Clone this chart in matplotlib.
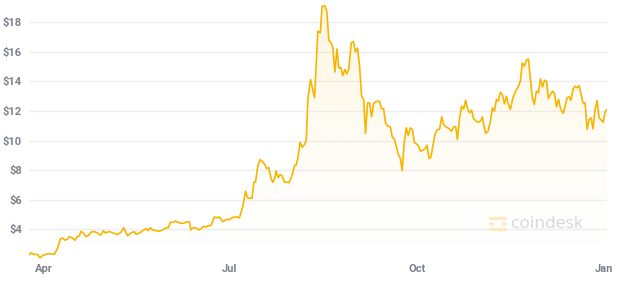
import numpy as np
import pandas as pd
import matplotlib
matplotlib.use("Agg")
import matplotlib.pyplot as plt

# days counted from 2021-04-01, price in USD
days = [
    -7.4, -6.6, -4.9, -3.3, -2.1, -0.8, 0.8, 2.5, 4.9, 6.6, 7.9, 9.0, 10.2,
    11.5, 12.3, 13.9, 15.1, 16.1, 17.2, 18.0, 19.2, 20.5, 21.8, 23.4, 25.4,
    27.0, 27.8, 29.0, 30.0, 31.9, 33.6, 36.0, 37.7, 39.0, 40.9, 42.6, 44.2,
    45.0, 46.7, 48.3, 50.0, 50.9, 52.1, 53.2, 54.9, 56.5, 58.1, 59.8, 60.9,
    61.9, 63.1, 64.4, 65.5, 67.2, 68.8, 69.9, 71.3, 71.9, 72.9, 74.2, 75.8,
    77.0, 78.3, 79.4, 80.8, 81.9, 83.5, 84.7, 86.0, 87.6, 89.3, 90.9, 92.5,
    94.2, 95.8, 97.5, 98.8, 99.9, 101.1, 102.0, 102.9, 103.7, 104.8, 106.0,
    107.3, 108.4, 109.2, 110.2, 111.4, 112.2, 113.2, 113.8, 114.8, 115.8,
    116.8, 117.9, 119.2, 120.1, 121.2, 122.0, 122.9, 123.7, 124.5, 125.6,
    126.6, 127.8, 128.6, 129.4, 130.7, 132.7, 134.3, 135.5, 136.4, 137.8,
    138.7, 139.7, 140.9, 141.7, 142.7, 143.7, 144.6, 145.6, 146.6, 147.6,
    148.6, 149.5, 150.7, 151.8, 152.8, 153.8, 154.8, 155.8, 156.8, 157.7,
    158.7, 159.7, 160.7, 161.7, 163.0, 164.6, 165.6, 166.6, 167.6, 168.7,
    169.9, 170.8, 171.8, 172.8, 173.8, 174.8, 175.7, 176.7, 177.7, 178.7,
    179.7, 180.7, 181.7, 182.6, 183.8, 184.6, 185.9, 186.9, 187.9, 188.9,
    189.8, 190.8, 191.8, 192.8, 194.1, 195.1, 196.1, 197.4, 198.7, 200.0,
    201.0, 202.0, 202.8, 203.9, 204.9, 205.9, 206.9, 207.9, 208.8, 209.8,
    210.8, 212.1, 213.4, 214.4, 215.1, 215.9, 216.7, 217.9, 219.0, 220.0,
    221.0, 222.0, 222.9, 223.9, 224.9, 225.9, 226.9, 227.9, 228.8, 230.1,
    231.4, 232.8, 233.7, 234.7, 235.7, 236.7, 237.7, 238.7, 239.6, 240.6,
    241.6, 242.6, 243.6, 244.6, 245.6, 246.6, 247.5, 248.5, 249.5, 250.5,
    251.5, 252.5, 253.5, 254.7, 255.8, 256.7, 257.7, 258.6, 259.6, 260.6,
    261.6, 262.6, 263.6, 264.5, 265.5, 266.5, 267.5, 268.5, 269.4, 270.4,
    271.4, 272.4, 273.4, 274.4, 275.3, 276.3,
]
prices = [
    2.29, 2.40, 2.29, 2.30, 2.07, 2.22, 2.30, 2.35, 2.30, 2.74, 3.35, 3.40, 3.25,
    3.35, 3.50, 3.40, 3.25, 3.50, 3.55, 3.85, 3.75, 3.50, 3.60, 3.85, 3.80,
    3.65, 3.60, 3.90, 3.75, 3.85, 3.75, 3.65, 3.80, 4.10, 3.55, 3.75, 3.85,
    3.65, 3.75, 3.90, 4.05, 3.90, 4.10, 3.95, 3.90, 3.87, 3.95, 4.10, 4.10,
    4.47, 4.47, 4.55, 4.47, 4.40, 4.42, 4.50, 4.50, 3.95, 4.10, 4.10, 3.95,
    4.05, 4.20, 4.15, 4.25, 4.25, 4.83, 4.77, 4.83, 4.50, 4.65, 4.65, 4.80,
    4.83, 4.77, 5.56, 6.57, 6.10, 6.10, 6.10, 7.18, 7.18, 8.26, 8.72,
    8.55, 8.35, 8.10, 8.17, 7.41, 7.18, 7.48, 7.95, 7.48, 7.70,
    7.60, 7.18, 7.18, 7.14, 7.48, 7.82, 8.33, 8.33, 8.83, 9.89,
    9.55, 9.73, 10.02, 12.78, 14.13, 12.90, 17.40, 17.30, 19.10, 19.10,
    18.76, 16.78, 16.60, 16.28, 14.64, 16.20, 14.90, 14.95, 14.40, 14.80,
    14.50, 14.85, 16.60, 16.70, 16.00, 16.25, 15.03, 12.99, 12.78, 10.48,
    12.55, 12.55, 11.60, 12.50, 12.65, 12.65, 12.15, 12.15, 11.15, 10.97,
    10.93, 10.25, 10.12, 9.62, 9.05, 8.83, 7.97, 9.85, 10.86, 10.34,
    10.86, 10.75, 9.85, 9.80, 9.62, 9.28, 9.35, 9.44, 9.69, 8.78,
    8.87, 9.62, 10.41, 10.70, 10.79, 11.60, 11.08, 10.90, 10.81, 10.63,
    10.93, 10.93, 10.07, 11.53, 12.32, 12.14, 12.73, 12.10, 11.88, 12.05,
    11.47, 11.31, 11.24, 11.38, 11.60, 10.97, 10.48, 10.63, 11.31, 12.21,
    11.98, 12.78, 12.67, 13.27, 13.11, 12.48, 13.00, 12.44, 12.10, 12.90,
    13.34, 13.68, 14.01, 15.25, 15.03, 15.43, 15.52, 14.13, 12.90, 12.44,
    13.34, 13.23, 14.17, 13.63, 14.08, 14.01, 12.84, 13.11, 13.34, 13.18,
    12.28, 12.78, 12.14, 11.83, 12.37, 12.90, 12.97, 12.73, 13.50, 13.68,
    13.57, 13.72, 13.11, 12.55, 12.55, 10.75, 11.42, 11.53, 10.79, 12.10,
    12.71, 11.53, 11.38, 11.24, 11.92, 12.10,
]
tick_days = [0, 91, 183, 275]
tick_labels = ["Apr", "Jul", "Oct", "Jan"]
y_ticks = [4, 6, 8, 10, 12, 14, 16, 18]

line_color = "#f7b500"
label_color = "#7b808c"
grid_color = "#eceef3"

x = np.array(days)
y = np.array(prices)

fig = plt.figure(figsize=(6.24, 2.83), dpi=100)
ax = fig.add_axes([0.0465, 0.083, 0.927, 0.9166])
ax.set_xlim(-7.5, 276.5)
ax.set_ylim(1.95, 19.5)

# gradient fill under the line
grad = np.linspace(0, 1, 256).reshape(-1, 1)
rgba = np.zeros((256, 1, 4))
rgba[..., 0] = 0.99
rgba[..., 1] = 0.80
rgba[..., 2] = 0.30
rgba[..., 3] = 0.18 * grad ** 1.3
img = ax.imshow(rgba, extent=[x.min(), x.max(), 1.95, 19.5], origin="lower",
                aspect="auto", zorder=1, interpolation="bilinear")
verts = np.vstack([np.column_stack([x, y]),
                   [[x[-1], 1.95], [x[0], 1.95]]])
clip = plt.Polygon(verts, closed=True, transform=ax.transData)
img.set_clip_path(clip)

ax.plot(x, y, color=line_color, linewidth=1.2, zorder=3,
        solid_joinstyle="round")

ax.set_yticks(y_ticks)
ax.set_yticklabels([f"${v}" for v in y_ticks])
ax.set_xticks(tick_days)
ax.set_xticklabels(tick_labels)
ax.grid(axis="y", color=grid_color, linewidth=1.0, zorder=0)
ax.set_axisbelow(True)
for s in ax.spines.values():
    s.set_visible(False)
ax.tick_params(axis="both", length=0, colors=label_color, labelsize=8)
ax.tick_params(axis="y", pad=5)
ax.tick_params(axis="x", pad=3)
for lab in ax.get_xticklabels() + ax.get_yticklabels():
    lab.set_fontfamily("Roboto")
    lab.set_fontweight("bold")

# watermark: dotted bracket logo + word mark
logo_dots = [(0, 0), (1, 0), (2, 0), (3, 0), (0, 1), (3, 1),
             (0, 2), (1, 2), (2, 2), (3, 2)]
for dx, dy in logo_dots:
    fig.patches.append(plt.Circle(((491.5 + dx * 4.2) / 624,
                                   1 - (218.5 + dy * 5.5) / 283),
                                  0.0034, transform=fig.transFigure,
                                  color="#fde9bf", zorder=5))
fig.text(511 / 624, 1 - 223.5 / 283, "coindesk", fontsize=12.5,
         color="#d3d6dd", family="Open Sans", va="center", ha="left")

fig.savefig("out.png", dpi=100)
